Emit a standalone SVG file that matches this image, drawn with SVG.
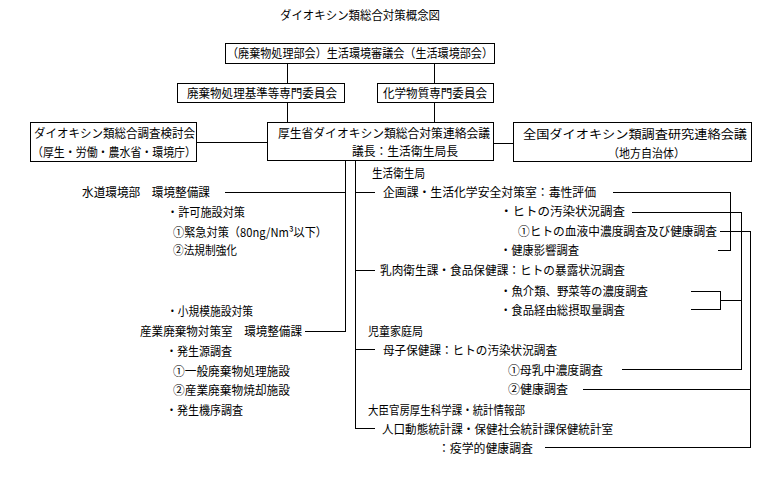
<svg xmlns="http://www.w3.org/2000/svg" width="781" height="499" viewBox="0 0 781 499">
<style>
text{font-family:"Noto Sans CJK JP","Noto Sans",sans-serif;font-size:12px;fill:#000}
.b{fill:#fff;stroke:#000;stroke-width:1}
.c{stroke:#000;stroke-width:1;fill:none}
</style>
<rect width="781" height="499" fill="#fff"/>
<g id="connectors" class="c" shape-rendering="crispEdges">
<path d="M287.5 64V83M434.5 64V83M287.5 103V122M434.5 103V122"/>
<path d="M197 142.5H267M494 143.5H513"/>
<path d="M345.5 160V331.5H305M345.5 192.5H225"/>
<path d="M355.5 160V428.5H375M355.5 192.5H375M355.5 270.5H375M355.5 349.5H375"/>
<path d="M613 192.5H730.5V250.5H718"/>
<path d="M632 212.5H741.5V369.5H622"/>
<path d="M691 291.5H720.5V309.5H691M720.5 300.5H741.5"/>
<path d="M720 231.5H750.5V447.5H545M750.5 389.5H583"/>
</g>
<g id="title"><text x="280" y="19.5" textLength="160" lengthAdjust="spacingAndGlyphs">ダイオキシン類総合対策概念図</text></g>
<g id="council">
<rect class="b" x="225.5" y="43.5" width="269" height="20"/>
<text x="227" y="58" textLength="266" lengthAdjust="spacingAndGlyphs">（廃棄物処理部会）生活環境審議会（生活環境部会）</text>
</g>
<g id="waste-committee">
<rect class="b" x="177.5" y="83.5" width="167" height="19"/>
<text x="187" y="97.5" textLength="150" lengthAdjust="spacingAndGlyphs">廃棄物処理基準等専門委員会</text>
</g>
<g id="chem-committee">
<rect class="b" x="377.5" y="83.5" width="116" height="19"/>
<text x="383" y="97.5" textLength="104" lengthAdjust="spacingAndGlyphs">化学物質専門委員会</text>
</g>
<g id="survey-committee">
<rect class="b" x="30.5" y="122.5" width="166" height="39"/>
<text x="34" y="138" textLength="161" lengthAdjust="spacingAndGlyphs">ダイオキシン類総合調査検討会</text>
<text x="32" y="157" textLength="164" lengthAdjust="spacingAndGlyphs">（厚生・労働・農水省・環境庁）</text>
</g>
<g id="liaison-council">
<rect class="b" x="267.5" y="122.5" width="226" height="38"/>
<text x="278" y="138" textLength="212" lengthAdjust="spacingAndGlyphs">厚生省ダイオキシン類総合対策連絡会議</text>
<text x="352" y="156" textLength="106" lengthAdjust="spacingAndGlyphs">議長：生活衛生局長</text>
</g>
<g id="national-council">
<rect class="b" x="513.5" y="122.5" width="238" height="39"/>
<text x="523" y="139" textLength="224" lengthAdjust="spacingAndGlyphs">全国ダイオキシン類調査研究連絡会議</text>
<text x="608" y="158" textLength="77" lengthAdjust="spacingAndGlyphs">（地方自治体）</text>
</g>
<g id="water-env">
<text x="82" y="196.5" textLength="128" lengthAdjust="spacingAndGlyphs">水道環境部　環境整備課</text>
<text x="167" y="216.5" textLength="78" lengthAdjust="spacingAndGlyphs">・許可施設対策</text>
<text x="173" y="236.5" textLength="154" lengthAdjust="spacingAndGlyphs">①緊急対策（80ng/Nm³以下）</text>
<text x="173" y="254.5" textLength="64" lengthAdjust="spacingAndGlyphs">②法規制強化</text>
<text x="167" y="316" textLength="86" lengthAdjust="spacingAndGlyphs">・小規模施設対策</text>
</g>
<g id="industrial-waste">
<text x="140" y="336" textLength="162" lengthAdjust="spacingAndGlyphs">産業廃棄物対策室　環境整備課</text>
<text x="166" y="355.5" textLength="66" lengthAdjust="spacingAndGlyphs">・発生源調査</text>
<text x="173" y="375.5" textLength="117" lengthAdjust="spacingAndGlyphs">①一般廃棄物処理施設</text>
<text x="173" y="394.5" textLength="117" lengthAdjust="spacingAndGlyphs">②産業廃棄物焼却施設</text>
<text x="166" y="414.5" textLength="77" lengthAdjust="spacingAndGlyphs">・発生機序調査</text>
</g>
<g id="env-health-bureau">
<text x="372" y="178" textLength="53" lengthAdjust="spacingAndGlyphs">生活衛生局</text>
<text x="383" y="196.5" textLength="213" lengthAdjust="spacingAndGlyphs">企画課・生活化学安全対策室：毒性評価</text>
<text x="500" y="216" textLength="125" lengthAdjust="spacingAndGlyphs">・ヒトの汚染状況調査</text>
<text x="518" y="235.5" textLength="199" lengthAdjust="spacingAndGlyphs">①ヒトの血液中濃度調査及び健康調査</text>
<text x="500" y="254.5" textLength="79" lengthAdjust="spacingAndGlyphs">・健康影響調査</text>
<text x="380" y="274.5" textLength="245" lengthAdjust="spacingAndGlyphs">乳肉衛生課・食品保健課：ヒトの暴露状況調査</text>
<text x="500" y="296" textLength="148" lengthAdjust="spacingAndGlyphs">・魚介類、野菜等の濃度調査</text>
<text x="500" y="314.5" textLength="125" lengthAdjust="spacingAndGlyphs">・食品経由総摂取量調査</text>
</g>
<g id="child-bureau">
<text x="368" y="336" textLength="55" lengthAdjust="spacingAndGlyphs">児童家庭局</text>
<text x="383" y="355" textLength="174" lengthAdjust="spacingAndGlyphs">母子保健課：ヒトの汚染状況調査</text>
<text x="508" y="374.5" textLength="95" lengthAdjust="spacingAndGlyphs">①母乳中濃度調査</text>
<text x="508" y="393.5" textLength="60" lengthAdjust="spacingAndGlyphs">②健康調査</text>
</g>
<g id="minister-secretariat">
<text x="368" y="414.5" textLength="157" lengthAdjust="spacingAndGlyphs">大臣官房厚生科学課・統計情報部</text>
<text x="382" y="433.5" textLength="231" lengthAdjust="spacingAndGlyphs">人口動態統計課・保健社会統計課保健統計室</text>
<text x="438" y="452.5" textLength="95" lengthAdjust="spacingAndGlyphs">：疫学的健康調査</text>
</g>
</svg>
